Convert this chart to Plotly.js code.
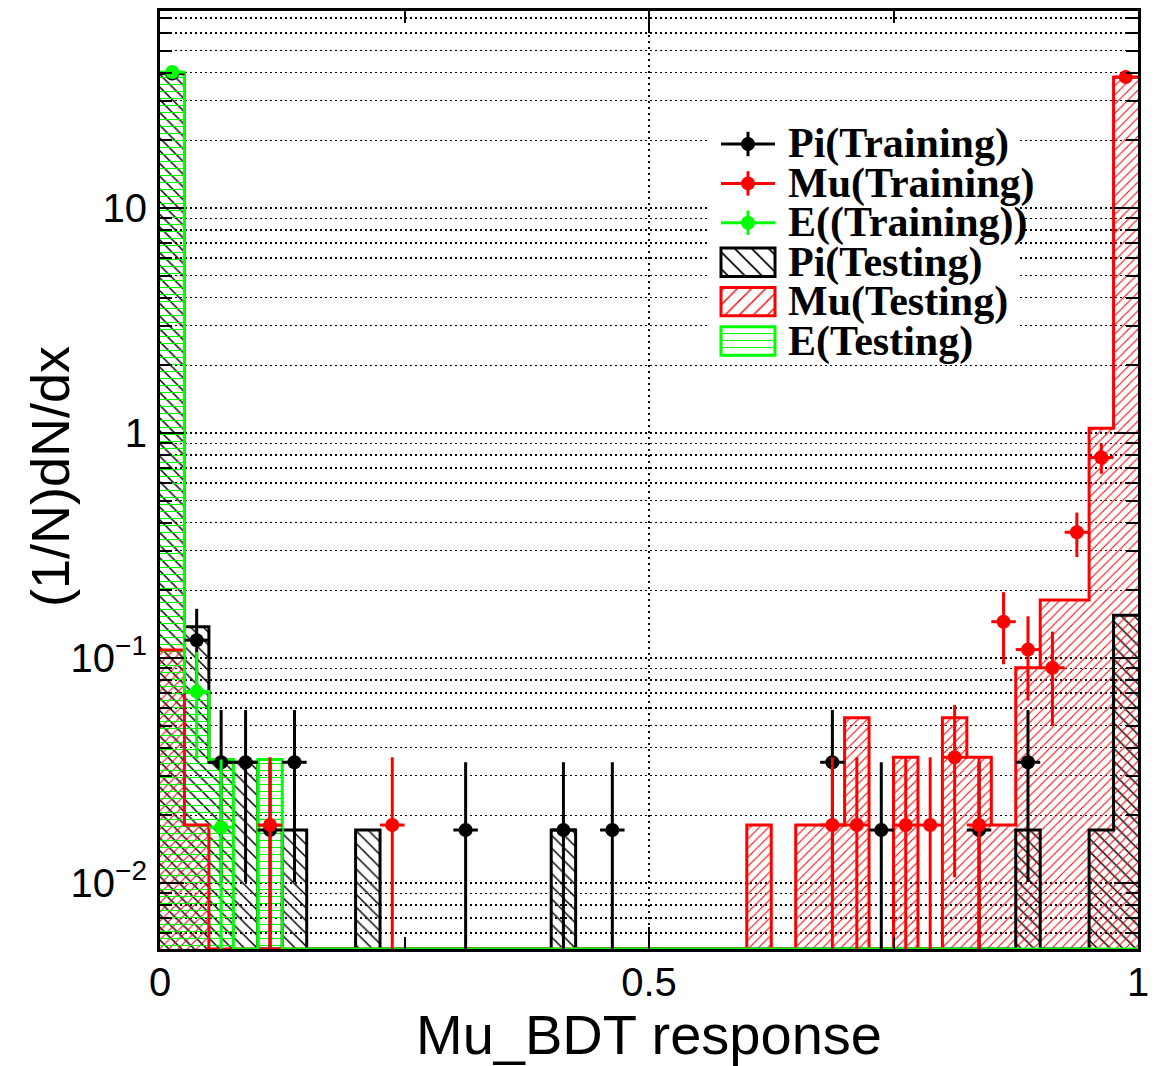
<!DOCTYPE html>
<html>
<head>
<meta charset="utf-8">
<script src="https://cdn.plot.ly/plotly-3.0.1.min.js"></script>
<style>
  html, body { margin: 0; padding: 0; background: #ffffff; }
  #chart { width: 1168px; height: 1066px; }
</style>
</head>
<body>
<div id="chart"></div>
<script>
// Binning of the BDT response histograms: 40 bins on [0, 1]
const binWidth = 0.025;
const nBins = 40;

// (1/N) dN/dx per bin, training samples (drawn as points with errors)
const piTrain = [
  39.6, 0.120, 0.0344, 0.0344, 0.0172, 0.0344, 0, 0, 0, 0,
  0, 0, 0.0172, 0, 0, 0, 0.0172, 0, 0.0172, 0,
  0, 0, 0, 0, 0, 0, 0, 0.0344, 0, 0.0172,
  0, 0, 0, 0.0172, 0, 0.0344, 0, 0, 0, 0
];
const piTrainErr = [
  0.83, 0.0455, 0.0243, 0.0243, 0.0172, 0.0243, 0, 0, 0, 0,
  0, 0, 0.0172, 0, 0, 0, 0.0172, 0, 0.0172, 0,
  0, 0, 0, 0, 0, 0, 0, 0.0243, 0, 0.0172,
  0, 0, 0, 0.0172, 0, 0.0243, 0, 0, 0, 0
];
const muTrain = [
  0, 0, 0, 0, 0.0181, 0, 0, 0, 0, 0.0181,
  0, 0, 0, 0, 0, 0, 0, 0, 0, 0,
  0, 0, 0, 0, 0, 0, 0, 0.0181, 0.0181, 0,
  0.0181, 0.0181, 0.0362, 0.0181, 0.145, 0.109, 0.0905, 0.362, 0.778, 38.2
];
const muTrainErr = [
  0, 0, 0, 0, 0.0181, 0, 0, 0, 0, 0.0181,
  0, 0, 0, 0, 0, 0, 0, 0, 0, 0,
  0, 0, 0, 0, 0, 0, 0, 0.0181, 0.0181, 0,
  0.0181, 0.0181, 0.0256, 0.0181, 0.0512, 0.0443, 0.0405, 0.081, 0.119, 0.83
];
const eTrain = [
  40.2, 0.0709, 0.0177, 0, 0, 0, 0, 0, 0, 0,
  0, 0, 0, 0, 0, 0, 0, 0, 0, 0,
  0, 0, 0, 0, 0, 0, 0, 0, 0, 0,
  0, 0, 0, 0, 0, 0, 0, 0, 0, 0
];
const eTrainErr = [
  0.84, 0.0354, 0.0177, 0, 0, 0, 0, 0, 0, 0,
  0, 0, 0, 0, 0, 0, 0, 0, 0, 0,
  0, 0, 0, 0, 0, 0, 0, 0, 0, 0,
  0, 0, 0, 0, 0, 0, 0, 0, 0, 0
];

// (1/N) dN/dx per bin, testing samples (drawn as hatched histograms)
const piTest = [
  39.5, 0.1376, 0.0344, 0.0344, 0, 0.0172, 0, 0, 0.0172, 0,
  0, 0, 0, 0, 0, 0, 0.0172, 0, 0, 0,
  0, 0, 0, 0, 0, 0, 0, 0, 0, 0,
  0, 0, 0, 0, 0, 0.0172, 0, 0, 0.0172, 0.155
];
const muTest = [
  0.1086, 0.0181, 0, 0, 0, 0, 0, 0, 0, 0,
  0, 0, 0, 0, 0, 0, 0, 0, 0, 0,
  0, 0, 0, 0, 0.0181, 0, 0.0181, 0.0181, 0.0543, 0,
  0.0362, 0, 0.0543, 0.0362, 0.0181, 0.0905, 0.181, 0.181, 1.05, 38.1
];
const eTest = [
  39.9, 0.0709, 0.0354, 0, 0.0354, 0, 0, 0, 0, 0,
  0, 0, 0, 0, 0, 0, 0, 0, 0, 0,
  0, 0, 0, 0, 0, 0, 0, 0, 0, 0,
  0, 0, 0, 0, 0, 0, 0, 0, 0, 0
];

const legendNames = ['Pi(Training)', 'Mu(Training)', 'E((Training))',
                     'Pi(Testing)', 'Mu(Testing)', 'E(Testing)'];

// axis decoration
const xTitle = 'Mu_BDT response';
const yTitle = '(1/N)dN/dx';
const xTickVals = [0, 0.5, 1];
const xTickText = ['0', '0.5', '1'];
const xMinorVals = [0.25, 0.75];
const yTickVals = [0.01, 0.1, 1, 10];
const yTickText = ['10<sup>\u22122</sup>', '10<sup>\u22121</sup>', '1', '10'];
const yLogRange = [-2.2933, 1.8756];

const BLACK = '#000000', RED = '#ff0000', GREEN = '#00ff00';

const centers = Array.from({length: nBins}, (_, i) => (i + 0.5) * binWidth);
const edges = Array.from({length: nBins + 1}, (_, i) => i * binWidth);
const yFloor = Math.pow(10, yLogRange[0]);

const yMinorVals = [];
for (let d = -3; d <= 1; d++) {
  for (let m = 2; m <= 9; m++) {
    const v = m * Math.pow(10, d);
    if (Math.log10(v) > yLogRange[0] && Math.log10(v) < yLogRange[1]) yMinorVals.push(v);
  }
}

function hatchBars(vals, color, shape, size) {
  return {
    type: 'bar', x: centers, y: vals.map(v => v > 0 ? v : null),
    width: binWidth, xaxis: 'x', yaxis: 'y',
    marker: {
      color: color, line: {width: 0},
      pattern: {shape: shape, fgcolor: color, bgcolor: 'rgba(0,0,0,0)',
                size: size, solidity: 0.16, fillmode: 'replace'}
    },
    showlegend: false, hoverinfo: 'skip'
  };
}

function stepOutline(vals, color) {
  const ys = vals.map(v => v > 0 ? v : yFloor);
  ys.push(ys[ys.length - 1]);
  return {
    type: 'scatter', mode: 'lines', x: edges, y: ys, xaxis: 'x', yaxis: 'y',
    line: {color: color, width: 3, shape: 'hv'},
    showlegend: false, hoverinfo: 'skip'
  };
}

function trainPoints(vals, errs, color) {
  const xs = [], ys = [], es = [];
  vals.forEach((v, i) => {
    if (v > 0) { xs.push(centers[i]); ys.push(v); es.push(errs[i]); }
  });
  return {
    type: 'scatter', mode: 'markers', x: xs, y: ys, xaxis: 'x', yaxis: 'y',
    marker: {color: color, size: 14},
    error_y: {type: 'data', array: es, visible: true, color: color, thickness: 3, width: 0},
    error_x: {type: 'constant', value: binWidth / 2, visible: true, color: color, thickness: 3, width: 0},
    showlegend: false, hoverinfo: 'skip'
  };
}

const traces = [
  hatchBars(piTest, BLACK, '\\', 9),
  hatchBars(muTest, RED, '/', 6.5),
  hatchBars(eTest, GREEN, '-', 7),
  stepOutline(piTest, BLACK),
  stepOutline(muTest, RED),
  stepOutline(eTest, GREEN),
  trainPoints(piTrain, piTrainErr, BLACK),
  trainPoints(muTrain, muTrainErr, RED),
  trainPoints(eTrain, eTrainErr, GREEN)
];

// ---- legend block: drawn on an auxiliary subplot (x2/y2), one row per entry ----
// pixel helpers (plot area spans x 160..1138, y 11..949)
const W = 1168, H = 1066, ML = 160, MR = 30, MT = 11, MB = 117;
const px2paperX = px => (px - ML) / (W - ML - MR);
const px2paperY = py => (H - MB - py) / (H - MT - MB);
const rowTop = 144, rowStep = 39.4;          // centre of the first row, row pitch
const symLeft = 721, symRight = 775;         // symbol column
const boxLeft = 708, boxRight = 1018, boxTop = 120, boxBottom = 360;
const unitX = symRight - symLeft;
const x2Range = [(boxLeft - symLeft) / unitX, (boxRight - symLeft) / unitX];
const y2Range = [(boxBottom - rowTop) / rowStep, (boxTop - rowTop) / rowStep];

const legendColors = [BLACK, RED, GREEN, BLACK, RED, GREEN];
const legendShapes = ['\\', '/', '-'];
const legendSizes = [12, 10, 7];

// white backing of the legend (a single wide horizontal bar, drawn first)
traces.push({
  type: 'bar', orientation: 'h', xaxis: 'x2', yaxis: 'y2',
  y: [(y2Range[0] + y2Range[1]) / 2], width: Math.abs(y2Range[0] - y2Range[1]),
  base: x2Range[0], x: [x2Range[1] - x2Range[0]],
  marker: {color: '#ffffff', line: {width: 0}},
  showlegend: false, hoverinfo: 'skip'
});
for (let r = 3; r < 6; r++) {
  const c = legendColors[r];
  traces.push({
    type: 'bar', orientation: 'h', x: [1], y: [r], base: 0, width: 0.72,
    xaxis: 'x2', yaxis: 'y2',
    marker: {
      color: c, line: {color: c, width: 3},
      pattern: {shape: legendShapes[r - 3], fgcolor: c, bgcolor: 'rgba(0,0,0,0)',
                size: legendSizes[r - 3], solidity: 0.14, fillmode: 'replace'}
    },
    showlegend: false, hoverinfo: 'skip'
  });
}
for (let r = 0; r < 3; r++) {
  traces.push({
    type: 'scatter', mode: 'markers', x: [0.5], y: [r], xaxis: 'x2', yaxis: 'y2',
    marker: {color: legendColors[r], size: 14},
    error_x: {type: 'constant', value: 0.5, color: legendColors[r], thickness: 3, width: 0},
    error_y: {type: 'constant', value: 0.31, color: legendColors[r], thickness: 3, width: 0},
    showlegend: false, hoverinfo: 'skip'
  });
}

const sansFamily = 'Liberation Sans, Arial, Helvetica, sans-serif';
const axisFont = {family: sansFamily, size: 40, color: '#000'};

const annotations = legendNames.map((name, r) => ({
  xref: 'paper', yref: 'paper', x: px2paperX(786), y: px2paperY(rowTop + rowStep * r),
  xanchor: 'left', yanchor: 'middle', showarrow: false, text: name,
  font: {family: 'Liberation Serif, Times New Roman, serif', size: 42, color: '#000', weight: 'bold'}
}));
// vertical axis title, set close to the tick labels
annotations.push({
  xref: 'paper', yref: 'paper', x: px2paperX(50), y: px2paperY(477),
  xanchor: 'center', yanchor: 'middle', showarrow: false, textangle: -90,
  text: yTitle, font: {family: sansFamily, size: 54, color: '#000'}
});

const layout = {
  width: W, height: H,
  margin: {l: ML, r: MR, t: MT, b: MB, pad: 0},
  paper_bgcolor: '#ffffff', plot_bgcolor: '#ffffff',
  barmode: 'overlay', bargap: 0,
  showlegend: false,
  xaxis: {
    range: [0, 1], autorange: false, fixedrange: true, automargin: false,
    showline: true, linecolor: '#000', linewidth: 3, mirror: 'ticks',
    ticks: 'inside', ticklen: 22, tickwidth: 2, tickcolor: '#000',
    tickmode: 'array', tickvals: xTickVals, ticktext: xTickText,
    tickfont: axisFont, ticklabelstandoff: -4,
    showgrid: true, gridcolor: '#000', gridwidth: 2, griddash: '2px,4px',
    zeroline: false,
    minor: {tickmode: 'array', tickvals: xMinorVals, ticks: 'inside', ticklen: 12,
            tickwidth: 2, tickcolor: '#000', showgrid: false},
    title: {text: xTitle, font: {family: sansFamily, size: 56, color: '#000'}}
  },
  yaxis: {
    type: 'log', range: yLogRange, autorange: false, fixedrange: true, automargin: false,
    showline: true, linecolor: '#000', linewidth: 3, mirror: 'ticks',
    ticks: 'inside', ticklen: 24, tickwidth: 2, tickcolor: '#000',
    tickmode: 'array', tickvals: yTickVals, ticktext: yTickText,
    tickfont: axisFont, ticklabelstandoff: 2,
    showgrid: true, gridcolor: '#000', gridwidth: 1.5, griddash: '2px,3px',
    zeroline: false,
    minor: {tickmode: 'array', tickvals: yMinorVals, ticks: 'inside', ticklen: 12,
            tickwidth: 2, tickcolor: '#000', showgrid: true, gridcolor: '#000',
            gridwidth: 1.5, griddash: '2px,3px'}
  },
  xaxis2: {
    domain: [px2paperX(boxLeft), px2paperX(boxRight)], range: x2Range, anchor: 'y2',
    visible: false, fixedrange: true
  },
  yaxis2: {
    domain: [px2paperY(boxBottom), px2paperY(boxTop)], range: y2Range,
    anchor: 'x2', visible: false, fixedrange: true
  },
  annotations: annotations
};

Plotly.newPlot('chart', traces, layout, {staticPlot: true, displayModeBar: false});
</script>
</body>
</html>
